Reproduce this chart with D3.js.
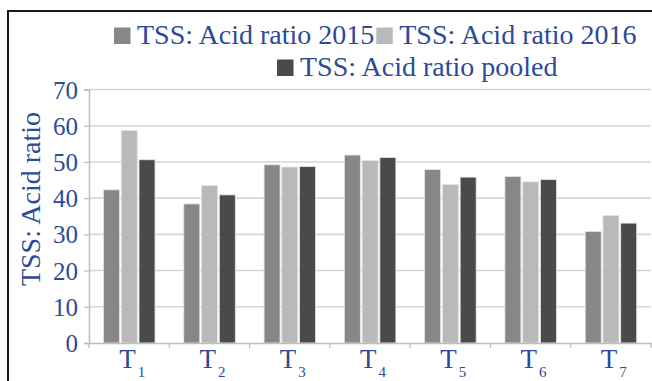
<!DOCTYPE html>
<html>
<head>
<meta charset="utf-8">
<script src="https://cdn.jsdelivr.net/npm/d3@7"></script>
<style>
  html, body { margin: 0; padding: 0; background: #fff; }
  svg { display: block; }
  text { font-family: "Liberation Serif", "Times New Roman", serif; fill: #2c4a98; }
</style>
</head>
<body>
<svg id="chart" width="652" height="381"></svg>
<script>
// ---- data ----
const categories = ["1", "2", "3", "4", "5", "6", "7"]; // T subscripts
const seriesNames = ["TSS: Acid ratio 2015", "TSS: Acid ratio 2016", "TSS: Acid ratio pooled"];
const values2015   = [42.3, 38.4, 49.2, 51.9, 47.9, 46.0, 30.8];
const values2016   = [58.7, 43.5, 48.6, 50.4, 43.8, 44.5, 35.2];
const valuesPooled = [50.6, 40.9, 48.7, 51.2, 45.8, 45.1, 33.1];
const yTicks = [0, 10, 20, 30, 40, 50, 60, 70];
const yLabel = "TSS: Acid ratio";
const colors = ["#878787", "#b9b9b9", "#4a4a4a"];

const seriesValues = [values2015, values2016, valuesPooled];
const FONT = '"Liberation Serif", "Times New Roman", serif';
const TXT = "#2c4a98";

const svg = d3.select("#chart");
const W = 652, H = 381;
const plot = { left: 89, right: 651, top: 89.5, bottom: 343 };

// frame
svg.append("path")
  .attr("d", `M8,${H} L8,11 L${W},11`)
  .attr("fill", "none").attr("stroke", "#1a1a1a").attr("stroke-width", 2);

const x0 = d3.scaleBand().domain(categories).range([plot.left, plot.right]).padding(0);
const x1 = d3.scaleBand().domain(seriesNames).range([14.5, 66]).paddingInner(0.1);
const y = d3.scaleLinear().domain([0, 70]).range([plot.bottom, plot.top]);

// gridlines
svg.append("g").selectAll("line").data(yTicks.filter(d => d > 0)).join("line")
  .attr("x1", plot.left).attr("x2", plot.right)
  .attr("y1", d => y(d)).attr("y2", d => y(d))
  .attr("stroke", "#d6d6d6").attr("stroke-width", 1.6);

// bars
const groups = svg.append("g").selectAll("g").data(categories).join("g")
  .attr("transform", d => `translate(${x0(d)},0)`);
groups.selectAll("rect")
  .data((d, i) => seriesNames.map((s, j) => ({ s, j, v: seriesValues[j][i] })))
  .join("rect")
  .attr("x", d => x1(d.s))
  .attr("width", x1.bandwidth())
  .attr("y", d => y(d.v))
  .attr("height", d => y(0) - y(d.v))
  .attr("fill", d => colors[d.j])
  .attr("stroke", "#e4e4e4").attr("stroke-width", 0.8);

// y axis
const yAxis = d3.axisLeft(y).tickValues(yTicks).tickSize(5).tickPadding(6).tickFormat(d3.format("d"));
const gy = svg.append("g").attr("transform", `translate(${plot.left},0)`).call(yAxis)
  .attr("font-family", null).attr("font-size", null);
gy.select(".domain").attr("stroke", "#bdbdbd").attr("stroke-width", 1.5);
gy.selectAll(".tick line").attr("stroke", "#bdbdbd").attr("stroke-width", 1.2);
gy.selectAll(".tick text")
  .style("font-family", FONT).style("font-size", "25px")
  .attr("fill", TXT).attr("dy", "0.34em");

// x axis
const xAxis = d3.axisBottom(x0).tickSize(0).tickFormat(() => "");
const gx = svg.append("g").attr("transform", `translate(0,${plot.bottom})`).call(xAxis);
gx.select(".domain").attr("stroke", "#bdbdbd").attr("stroke-width", 1.5);
// boundary tick marks
const boundaries = categories.map(c => x0(c)).concat([plot.right]);
gx.selectAll(".bnd").data(boundaries).join("line").attr("class", "bnd")
  .attr("x1", d => d).attr("x2", d => d).attr("y1", 0).attr("y2", 5)
  .attr("stroke", "#bdbdbd").attr("stroke-width", 1.2);

// x labels: T with subscript
const xl = svg.append("g").selectAll("text").data(categories).join("text")
  .attr("x", d => x0(d) + x0.bandwidth() / 2 + 3)
  .attr("y", 368)
  .attr("text-anchor", "middle")
  .style("font-family", FONT).style("font-size", "27px");
xl.append("tspan").text("T");
xl.append("tspan").style("font-size", "15px").attr("dy", 9).attr("dx", 2).text(d => d);

// y label
svg.append("text")
  .attr("transform", `translate(40,199) rotate(-90)`)
  .attr("text-anchor", "middle")
  .style("font-family", FONT).style("font-size", "28px")
  .text(yLabel);

// legend
const legendRows = [
  { start: 114, baseline: 44, items: [0, 1] },
  { start: 277, baseline: 76, items: [2] }
];
const lg = svg.append("g");
legendRows.forEach(row => {
  let cx = row.start;
  row.items.forEach(i => {
    lg.append("rect").attr("x", cx).attr("y", row.baseline - 16.5)
      .attr("width", 16.5).attr("height", 16.5).attr("fill", colors[i]);
    const t = lg.append("text").attr("x", cx + 23).attr("y", row.baseline)
      .style("font-family", FONT).style("font-size", "28px").text(seriesNames[i]);
    cx = cx + 23 + t.node().getComputedTextLength() + 2;
  });
});
</script>
</body>
</html>
